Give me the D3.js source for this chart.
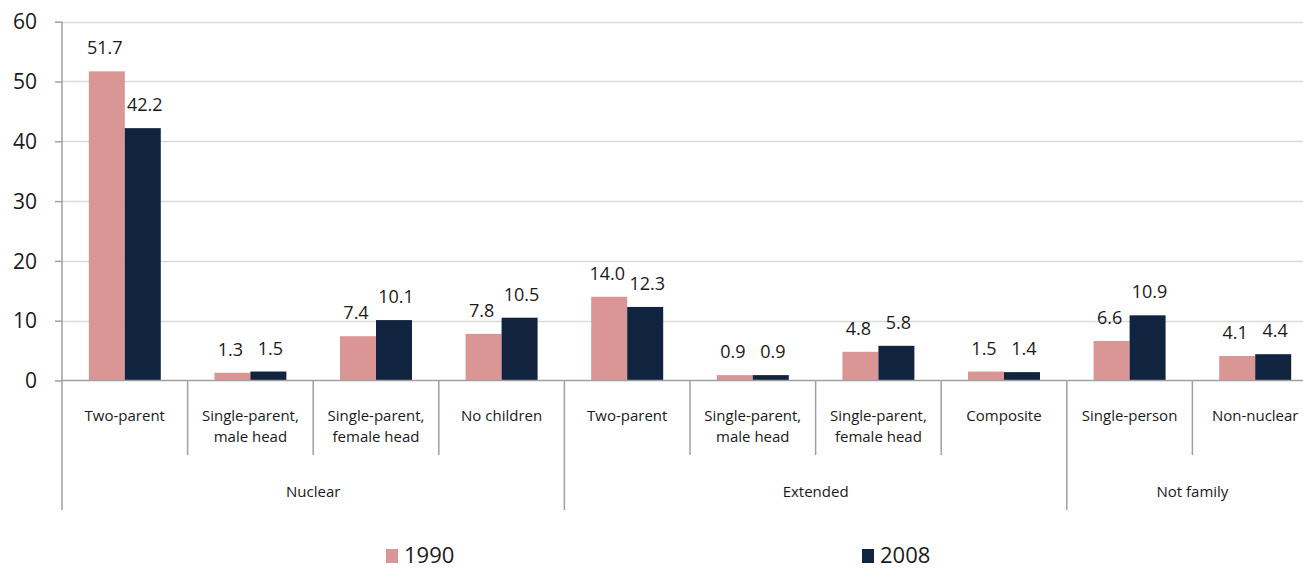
<!DOCTYPE html>
<html>
<head>
<meta charset="utf-8">
<script src="https://cdn.jsdelivr.net/npm/d3@7"></script>
<style>
  html, body { margin: 0; padding: 0; background: #fff; }
  svg { display: block; font-family: "Open Sans", "Liberation Sans", sans-serif; }
</style>
</head>
<body>
<svg id="chart" width="1303" height="568"></svg>
<script>
// ---- data ----
const categories = [
  ["Two-parent"],
  ["Single-parent,", "male head"],
  ["Single-parent,", "female head"],
  ["No children"],
  ["Two-parent"],
  ["Single-parent,", "male head"],
  ["Single-parent,", "female head"],
  ["Composite"],
  ["Single-person"],
  ["Non-nuclear"]
];
const groups = ["Nuclear", "Extended", "Not family"];
const groupSizes = [4, 4, 2];
const series = ["1990", "2008"];
const values1990 = [51.7, 1.3, 7.4, 7.8, 14.0, 0.9, 4.8, 1.5, 6.6, 4.1];
const values2008 = [42.2, 1.5, 10.1, 10.5, 12.3, 0.9, 5.8, 1.4, 10.9, 4.4];
const yTicks = [0, 10, 20, 30, 40, 50, 60];
const colors = ["#d99694", "#10243f"];

// ---- layout ----
const svg = d3.select("#chart");
const left = 62, bandW = 125.6;
const right = left + bandW * categories.length;
const y = d3.scaleLinear().domain([0, 60]).range([380.5, 21.7]);
const x0 = d3.scaleBand().domain(d3.range(categories.length)).range([left, right]);
const x1 = d3.scaleBand().domain(series).range([0, x0.bandwidth()]).paddingOuter(0.745);

// gridlines
svg.append("g").selectAll("line").data(yTicks.filter(d => d > 0)).join("line")
  .attr("x1", left).attr("x2", 1303)
  .attr("y1", d => Math.round(y(d)) + 0.5).attr("y2", d => Math.round(y(d)) + 0.5)
  .attr("stroke", "#d9d9d9").attr("stroke-width", 1.5);

// y axis
const yAxis = d3.axisLeft(y).tickValues(yTicks).tickSize(7).tickFormat(d3.format("d"));
const ya = svg.append("g").attr("transform", `translate(${left},0)`).call(yAxis);
ya.select(".domain").remove();
ya.selectAll(".tick line").attr("stroke", "#a0a0a0").attr("stroke-width", 1.5);
ya.selectAll(".tick text").attr("fill", "#1a1a1a").style("font-size", "21px")
  .style("font-family", "'Open Sans', sans-serif").attr("x", -25).attr("dy", "0.34em");

// bars
const data = categories.map((c, i) => ({ i, vals: [values1990[i], values2008[i]] }));
const cg = svg.append("g").selectAll("g").data(data).join("g")
  .attr("transform", d => `translate(${x0(d.i)},0)`);
cg.selectAll("rect").data(d => d.vals.map((v, k) => ({ v, k }))).join("rect")
  .attr("x", d => x1(series[d.k]))
  .attr("width", x1.bandwidth())
  .attr("y", d => y(d.v))
  .attr("height", d => y(0) - y(d.v))
  .attr("fill", d => colors[d.k]);
cg.selectAll("text.val").data(d => d.vals.map((v, k) => ({ v, k }))).join("text")
  .attr("class", "val")
  .attr("x", d => x1(series[d.k]) + x1.bandwidth() / 2 + (d.k === 0 ? -2 : 2))
  .attr("y", d => y(d.v) - 17)
  .attr("text-anchor", "middle")
  .style("font-size", "18px").attr("fill", "#1a1a1a")
  .text(d => d3.format(".1f")(d.v));

// y axis line
svg.append("line").attr("x1", left).attr("x2", left).attr("y1", y(60)).attr("y2", 510)
  .attr("stroke", "#a0a0a0").attr("stroke-width", 1.5);
// baseline
svg.append("line").attr("x1", left).attr("x2", 1303).attr("y1", y(0)).attr("y2", y(0))
  .attr("stroke", "#a0a0a0").attr("stroke-width", 1.5);

// category separators
const groupStarts = [];
let acc = 0;
groupSizes.forEach(s => { groupStarts.push(acc); acc += s; });
svg.append("g").selectAll("line").data(d3.range(1, categories.length)).join("line")
  .attr("x1", i => x0(i)).attr("x2", i => x0(i))
  .attr("y1", y(0)).attr("y2", i => groupStarts.includes(i) ? 510 : 455)
  .attr("stroke", "#a0a0a0").attr("stroke-width", 1.5);

// category labels
const cl = svg.append("g").selectAll("text").data(categories).join("text")
  .attr("x", (d, i) => x0(i) + x0.bandwidth() / 2)
  .attr("y", 421)
  .attr("text-anchor", "middle")
  .style("font-size", "15px").attr("fill", "#1a1a1a");
cl.selectAll("tspan").data(d => d).join("tspan")
  .attr("x", function () { return d3.select(this.parentNode).attr("x"); })
  .attr("dy", (d, k) => k === 0 ? 0 : 21)
  .text(d => d);

// group labels
svg.append("g").selectAll("text").data(groups).join("text")
  .attr("x", (d, g) => (x0(groupStarts[g]) + (groupStarts[g] + groupSizes[g] < categories.length ? x0(groupStarts[g] + groupSizes[g]) : right)) / 2)
  .attr("y", 497)
  .attr("text-anchor", "middle")
  .style("font-size", "15px").attr("fill", "#1a1a1a")
  .text(d => d);

// legend
const legendX = [386, 862];
const lg = svg.append("g").selectAll("g").data(series).join("g")
  .attr("transform", (d, k) => `translate(${legendX[k]},0)`);
lg.append("rect").attr("x", 0).attr("y", 549).attr("width", 12).attr("height", 14)
  .attr("fill", (d, k) => colors[k]);
lg.append("text").attr("x", 18).attr("y", 563)
  .style("font-size", "22px").attr("fill", "#1a1a1a").text(d => d);
</script>
</body>
</html>
